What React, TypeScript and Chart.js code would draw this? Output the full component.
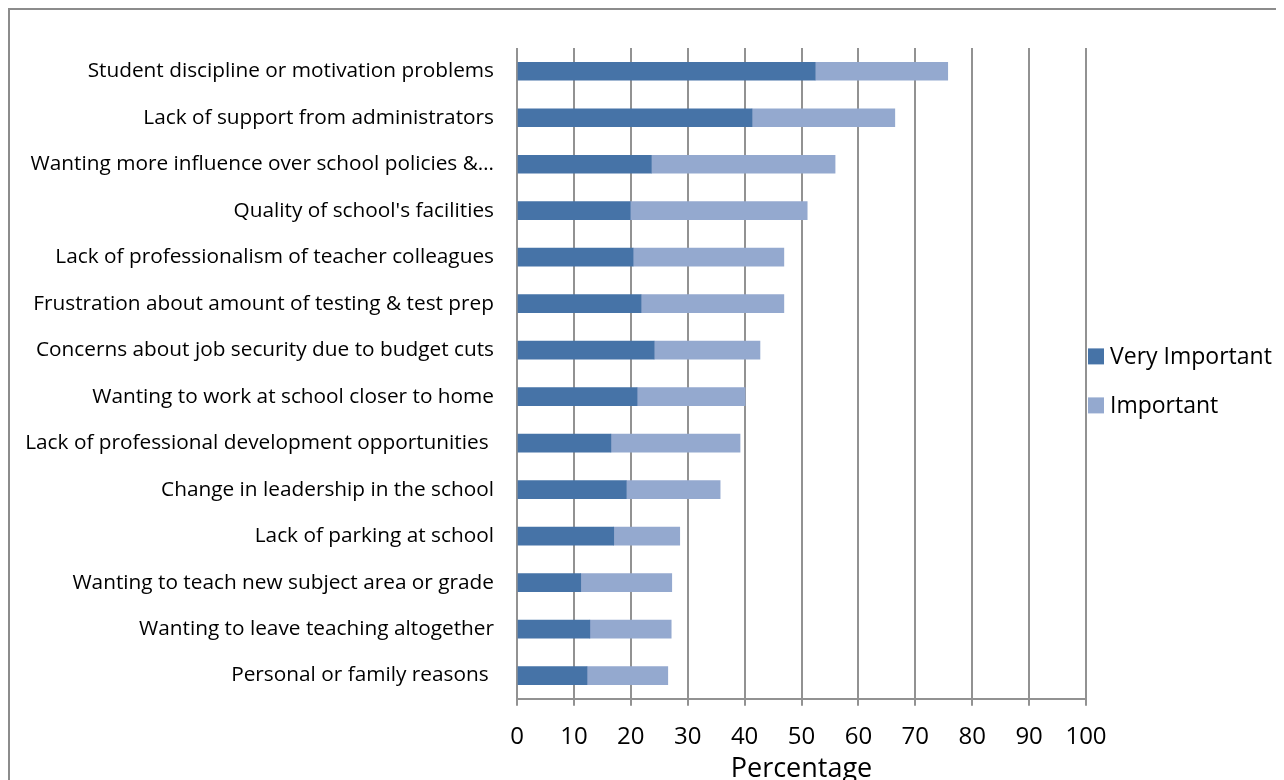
import React, { useEffect, useRef } from "react";
import { Chart, registerables } from "chart.js";

Chart.register(...registerables);

const categories = [
  "Student discipline or motivation problems",
  "Lack of support from administrators",
  "Wanting more influence over school policies &…",
  "Quality of school's facilities",
  "Lack of professionalism of teacher colleagues",
  "Frustration about amount of testing & test prep",
  "Concerns about job security due to budget cuts",
  "Wanting to work at school closer to home",
  "Lack of professional development opportunities ",
  "Change in leadership in the school",
  "Lack of parking at school",
  "Wanting to teach new subject area or grade",
  "Wanting to leave teaching altogether",
  "Personal or family reasons ",
];

const veryImportant = [52.4, 41.3, 23.6, 19.9, 20.4, 21.8, 24.1, 21.1, 16.5, 19.2, 17.0, 11.2, 12.8, 12.3];
const important = [23.3, 25.1, 32.3, 31.1, 26.5, 25.1, 18.6, 19.0, 22.7, 16.5, 11.6, 16.0, 14.3, 14.2];

const seriesNames = ["Very Important", "Important"];
const seriesColors = ["#4673a7", "#94a9cf"];
const xTicks = [0, 10, 20, 30, 40, 50, 60, 70, 80, 90, 100];
const axisTitle = "Percentage";

const FONT = "'Open Sans', 'Noto Sans', sans-serif";

const sideLegend = {
  id: "sideLegend",
  afterDraw(chart: any) {
    const { ctx, chartArea } = chart;
    const mid = (chartArea.top + chartArea.bottom) / 2;
    const offsets = [-17, 32];
    ctx.save();
    ctx.font = `23px ${FONT}`;
    ctx.textBaseline = "middle";
    ctx.textAlign = "left";
    seriesNames.forEach((name, i) => {
      const cy = mid + offsets[i];
      const x = chartArea.right + 2;
      ctx.fillStyle = seriesColors[i];
      ctx.fillRect(x, cy - 8, 16, 16);
      ctx.fillStyle = "#000";
      ctx.fillText(name, x + 22, cy + 1);
    });
    ctx.restore();
  },
};

export default function App() {
  const ref = useRef<HTMLCanvasElement | null>(null);

  useEffect(() => {
    if (!ref.current) return;
    const chart = new Chart(ref.current, {
      type: "bar",
      data: {
        labels: categories,
        datasets: [
          {
            label: seriesNames[0],
            data: veryImportant,
            backgroundColor: seriesColors[0],
            borderWidth: 0,
            barThickness: 18,
          },
          {
            label: seriesNames[1],
            data: important,
            backgroundColor: seriesColors[1],
            borderWidth: 0,
            barThickness: 18,
          },
        ],
      },
      options: {
        indexAxis: "y",
        animation: false,
        responsive: false,
        maintainAspectRatio: false,
        layout: { padding: { top: 38, right: 198, bottom: -6, left: 0 } },
        plugins: {
          legend: { display: false },
          tooltip: { enabled: false },
          title: { display: false },
        },
        scales: {
          x: {
            stacked: true,
            min: 0,
            max: 100,
            afterBuildTicks: (scale: any) => {
              scale.ticks = xTicks.map((v) => ({ value: v }));
            },
            grid: {
              color: "#929292",
              lineWidth: 2,
              tickLength: 7,
              drawTicks: true,
            },
            border: { display: true, color: "#929292", width: 2 },
            ticks: {
              color: "#000",
              padding: 17,
              font: { family: FONT, size: 24 },
              maxRotation: 0,
            },
            title: {
              display: true,
              text: axisTitle,
              color: "#000",
              font: { family: FONT, size: 27 },
              padding: { top: -15, bottom: 0 },
            },
          },
          y: {
            stacked: true,
            grid: { display: false, drawTicks: false },
            border: { display: false },
            afterFit: (scale: any) => {
              scale.width = 507;
            },
            ticks: {
              color: "#000",
              padding: 23,
              autoSkip: false,
              font: { family: FONT, size: 20.8 },
            },
          },
        },
      },
      plugins: [sideLegend],
    });
    return () => chart.destroy();
  }, []);

  return (
    <div
      style={{
        width: 1276,
        height: 772,
        boxSizing: "border-box",
        borderTop: "2px solid #8c8c8c",
        borderLeft: "2px solid #8c8c8c",
        overflow: "hidden",
        background: "#fff",
      }}
    >
      <canvas ref={ref} width={1274} height={770} style={{ display: "block" }} />
    </div>
  );
}
